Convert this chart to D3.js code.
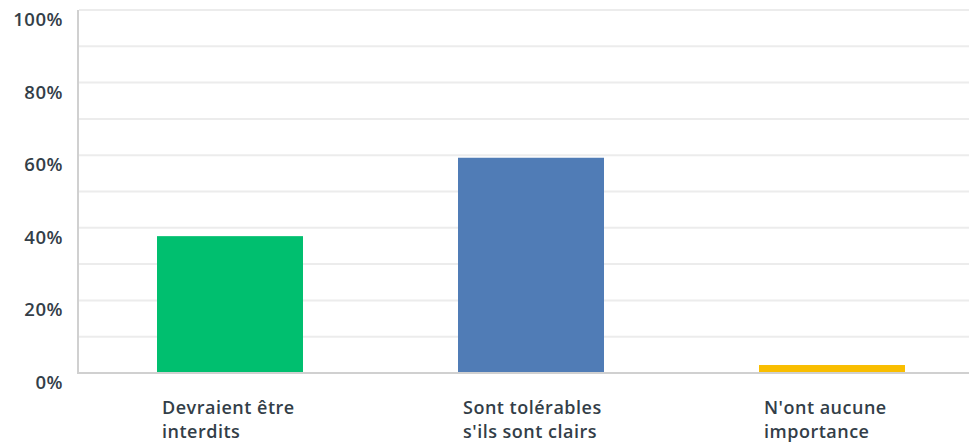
<!DOCTYPE html>
<html>
<head>
<meta charset="utf-8">
<script src="https://cdn.jsdelivr.net/npm/d3@7"></script>
<style>
body { margin: 0; background: #fff; }
text { font-family: "Open Sans", sans-serif; fill: #333e48; }
</style>
</head>
<body>
<script>
var categories = [["Devraient être", "interdits"], ["Sont tolérables", "s'ils sont clairs"], ["N'ont aucune", "importance"]];
var values = [37.7, 59.3, 2.2];
var colors = ["#00bf6f", "#507cb6", "#f9be00"];
var tickValues = [0, 20, 40, 60, 80, 100];
var gridValues = [10, 20, 30, 40, 50, 60, 70, 80, 90, 100];

var svg = d3.select("body").append("svg")
  .attr("width", 969)
  .attr("height", 443);

var x = d3.scaleBand()
  .domain(d3.range(categories.length))
  .range([79.5, 982.5])
  .paddingInner(0.515)
  .paddingOuter(0.2575);

var y = d3.scaleLinear()
  .domain([0, 100])
  .range([373, 10]);

// grid lines
svg.append("g")
  .selectAll("line")
  .data(gridValues)
  .enter().append("line")
  .attr("x1", 79)
  .attr("x2", 969)
  .attr("y1", function(d) { return y(d); })
  .attr("y2", function(d) { return y(d); })
  .attr("stroke", "#ececec")
  .attr("stroke-width", 2);

// bars
svg.append("g")
  .selectAll("rect")
  .data(values)
  .enter().append("rect")
  .attr("x", function(d, i) { return x(i); })
  .attr("y", function(d) { return y(d); })
  .attr("width", x.bandwidth())
  .attr("height", function(d) { return y(0) - y(d); })
  .attr("fill", function(d, i) { return colors[i]; });

// axis lines
svg.append("line")
  .attr("x1", 78).attr("x2", 78)
  .attr("y1", 10).attr("y2", 374)
  .attr("stroke", "#d0d0d0")
  .attr("stroke-width", 2);
svg.append("line")
  .attr("x1", 77).attr("x2", 969)
  .attr("y1", 373).attr("y2", 373)
  .attr("stroke", "#d0d0d0")
  .attr("stroke-width", 2);

// y tick labels
svg.append("g")
  .selectAll("text")
  .data(tickValues)
  .enter().append("text")
  .attr("x", 63)
  .attr("y", function(d) { return y(d) + 16; })
  .attr("text-anchor", "end")
  .style("font-size", "18.5px")
  .style("font-weight", 600)
  .style("letter-spacing", "0.5px")
  .text(function(d) { return d + "%"; });

// x labels
var lab = svg.append("g")
  .selectAll("text")
  .data(categories)
  .enter().append("text")
  .attr("x", function(d, i) { return x(i) + 5; })
  .attr("y", 414)
  .style("font-size", "18px")
  .style("font-weight", 600)
  .style("letter-spacing", "0.5px");

lab.selectAll("tspan")
  .data(function(d) { return d; })
  .enter().append("tspan")
  .attr("x", function() { return d3.select(this.parentNode).attr("x"); })
  .attr("dy", function(d, i) { return i ? 24 : 0; })
  .text(function(d) { return d; });
</script>
</body>
</html>
